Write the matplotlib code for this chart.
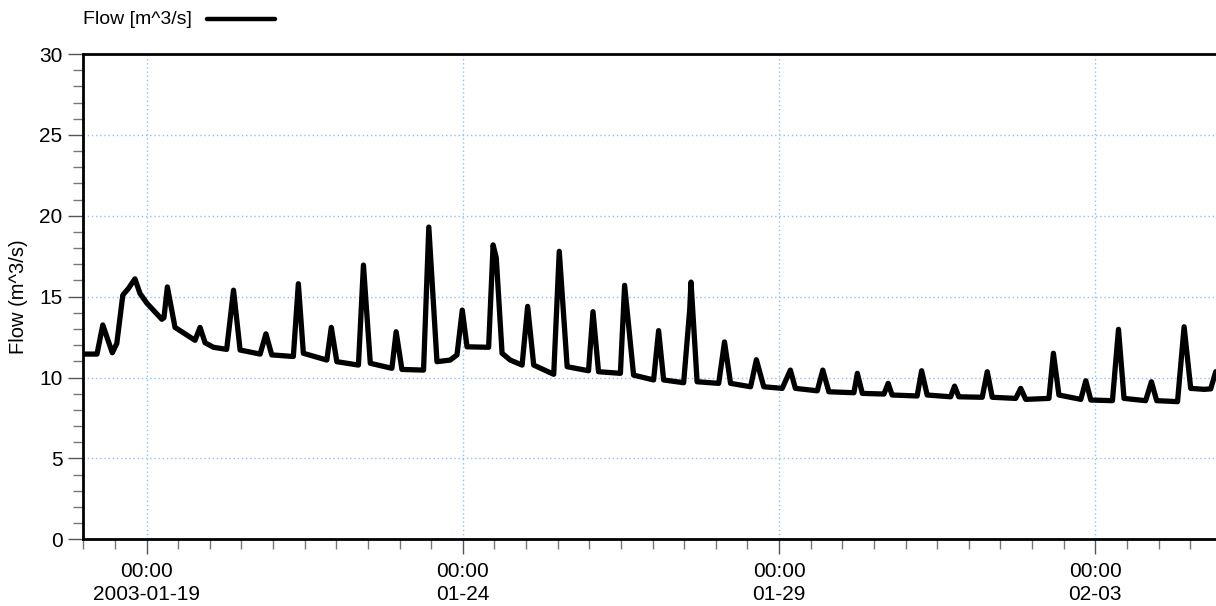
import matplotlib
matplotlib.use("Agg")
import matplotlib.pyplot as plt
import matplotlib.dates as mdates
from matplotlib.ticker import MultipleLocator, FixedLocator
from matplotlib.lines import Line2D
import pandas as pd

plt.rcParams['font.family'] = ['Liberation Sans', 'DejaVu Sans']

# ---- data (hours after 2003-01-18 00:00, flow in m^3/s) ----
start = pd.Timestamp("2003-01-18 00:00")
hours = [0.0, 5.2, 7.4, 11.0, 12.7, 15.0, 17.1, 19.6, 21.5, 24.1, 29.8, 30.6, 31.9, 34.8,
         42.4, 44.3, 46.2, 49.4, 54.4, 57.0, 59.5, 67.1, 69.3, 71.5, 79.7, 81.6, 83.5,
         92.4, 94.1, 96.2, 104.4, 106.3, 108.9, 117.1, 118.7, 120.9, 129.1, 131.1, 134.2,
         139.2, 141.8, 143.8, 145.6, 153.8, 155.5, 156.7, 158.9, 162.0, 166.5, 168.6, 170.9,
         178.5, 180.6, 183.6, 191.7, 193.4, 195.5, 203.8, 205.4, 208.8, 216.4, 218.3, 220.2,
         227.8, 230.1, 230.6, 232.9, 241.1, 243.3, 245.6, 253.2, 255.4, 258.2, 265.2, 268.3,
         270.2, 278.5, 280.6, 282.9, 292.4, 293.7, 295.6, 303.8, 305.4, 306.9, 316.4, 318.1,
         320.2, 329.1, 330.6, 332.2, 341.1, 343.0, 344.9, 353.8, 355.7, 357.6, 366.4, 368.1,
         370.2, 378.5, 380.4, 382.3, 390.5, 392.8, 394.9, 403.1, 405.3, 407.3, 415.2, 417.7,
         420.2, 425.3, 427.8, 429.7]
flow = [11.45, 11.45, 13.25, 11.53, 12.1, 15.1, 15.5, 16.1, 15.2, 14.6, 13.6, 13.7, 15.6, 13.1,
        12.3, 13.1, 12.15, 11.87, 11.74, 15.4, 11.7, 11.45, 12.7, 11.4, 11.3, 15.8, 11.5,
        11.08, 13.1, 10.98, 10.77, 16.95, 10.88, 10.57, 12.83, 10.5, 10.46, 19.3, 10.98,
        11.08, 11.4, 14.17, 11.9, 11.87, 18.2, 17.4, 11.5, 11.08, 10.77, 14.4, 10.77,
        10.2, 17.8, 10.67, 10.42, 14.07, 10.36, 10.26, 15.7, 10.15, 9.85, 12.9, 9.85,
        9.68, 14.2, 15.9, 9.74, 9.64, 12.2, 9.64, 9.43, 11.1, 9.43, 9.33, 10.46,
        9.33, 9.18, 10.46, 9.12, 9.06, 10.26, 9.02, 8.98, 9.64, 8.92, 8.86, 10.42,
        8.92, 8.81, 9.47, 8.81, 8.78, 10.36, 8.78, 8.71, 9.33, 8.65, 8.71, 11.5,
        8.92, 8.65, 9.8, 8.61, 8.57, 12.98, 8.71, 8.57, 9.74, 8.57, 8.51, 13.14,
        9.33, 9.27, 9.3, 10.36]

tick_dates = ["2003-01-19", "2003-01-24", "2003-01-29", "2003-02-03"]
tick_labels = ["00:00\n2003-01-19", "00:00\n01-24", "00:00\n01-29", "00:00\n02-03"]
y_ticks = [0, 5, 10, 15, 20, 25, 30]

times = [start + pd.Timedelta(hours=h) for h in hours]

fig = plt.figure(figsize=(12.16, 6.06), dpi=100)
ax = fig.add_axes([83.3 / 1216, 1 - 539.3 / 606, 1 - 83.3 / 1216, (539.3 - 54) / 606])

ax.plot(times, flow, color='black', lw=3.8, solid_joinstyle='round', solid_capstyle='round')

ax.set_xlim(start, start + pd.Timedelta(hours=429.8))
ax.set_ylim(0, 30)

major = [mdates.date2num(pd.Timestamp(d)) for d in tick_dates]
ax.xaxis.set_major_locator(FixedLocator(major))
ax.set_xticklabels(tick_labels, linespacing=1.3)
ax.xaxis.set_minor_locator(mdates.HourLocator(byhour=[0, 12]))
ax.set_yticks(y_ticks)
ax.yaxis.set_minor_locator(MultipleLocator(1))

ax.tick_params(axis='both', which='major', length=11, width=1, color='#555555',
               labelsize=15)
ax.tick_params(axis='x', which='major', pad=5)
ax.tick_params(axis='y', which='major', pad=4)
ax.tick_params(axis='both', which='minor', length=7, width=1, color='#777777')

ax.grid(True, which='major', color='#8ec0f0', linestyle=(0, (1, 2)), linewidth=1)
ax.set_axisbelow(True)

for s in ['left', 'bottom', 'top']:
    ax.spines[s].set_linewidth(2)
    ax.spines[s].set_color('black')
ax.spines['right'].set_visible(False)

ax.set_ylabel("Flow (m^3/s)", fontsize=14.5)
ax.yaxis.set_label_coords((28 - 83.3) / 1132.7, 0.5)

# legend (top-left)
fig.text(83 / 1216, 1 - 19 / 606, "Flow [m^3/s]", fontsize=14, va='center', ha='left')
fig.add_artist(Line2D([207 / 1216, 275 / 1216], [1 - 19 / 606, 1 - 19 / 606],
                      color='black', lw=3.2, solid_capstyle='round', transform=fig.transFigure))

fig.savefig("out.png", dpi=100)
